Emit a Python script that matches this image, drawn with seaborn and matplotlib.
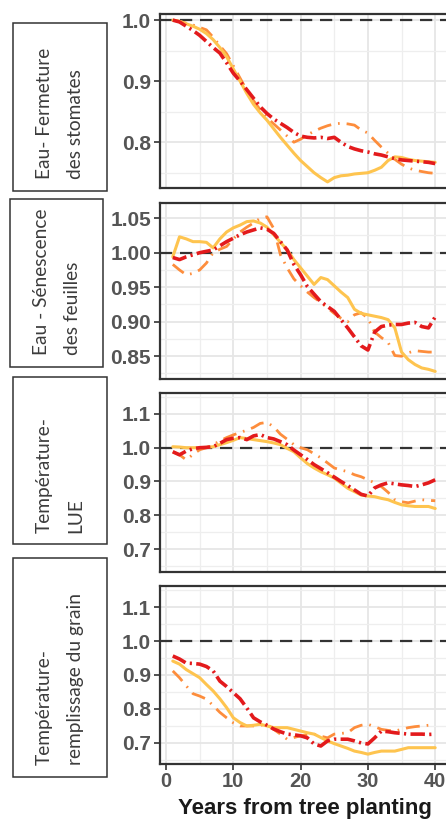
import matplotlib
matplotlib.use("Agg")
import matplotlib.pyplot as plt
from matplotlib.patches import Rectangle
import seaborn as sns
import numpy as np
import pandas as pd

# ---------------- data ----------------
years = list(range(1, 41))

panel_labels = ["Eau- Fermeture\ndes stomates",
                "Eau - Sénescence\ndes feuilles",
                "Température-\nLUE",
                "Température-\nremplissage du grain"]

# Panel 1 : Eau - Fermeture des stomates
p1_red = [1.0, 0.997, 0.99, 0.983, 0.975, 0.965, 0.955, 0.946, 0.93, 0.913,
          0.9, 0.886, 0.872, 0.858, 0.847, 0.838, 0.831, 0.824, 0.816, 0.81,
          0.808, 0.807, 0.808, 0.806, 0.808, 0.8, 0.793, 0.789, 0.786, 0.784,
          0.781, 0.779, 0.776, 0.773, 0.771, 0.77, 0.769, 0.768, 0.767, 0.765]
p1_orange = [1.0, 0.998, 0.995, 0.992, 0.988, 0.984, 0.972, 0.958, 0.945, 0.925,
             0.905, 0.885, 0.868, 0.853, 0.84, 0.83, 0.82, 0.81, 0.8, 0.805,
             0.812, 0.818, 0.823, 0.827, 0.83, 0.831, 0.83, 0.828, 0.82, 0.815,
             0.803, 0.792, 0.782, 0.772, 0.764, 0.758, 0.754, 0.752, 0.75, 0.749]
p1_yellow = [1.0, 0.998, 0.994, 0.99, 0.985, 0.978, 0.968, 0.955, 0.94, 0.92,
             0.9, 0.88, 0.862, 0.848, 0.836, 0.822, 0.808, 0.795, 0.782, 0.77,
             0.76, 0.75, 0.742, 0.735, 0.742, 0.745, 0.746, 0.748, 0.749, 0.75,
             0.754, 0.759, 0.77, 0.776, 0.775, 0.772, 0.77, 0.769, 0.768, 0.767]

# Panel 2 : Eau - Sénescence des feuilles
p2_red = [0.993, 0.99, 0.994, 0.997, 1.0, 1.002, 1.004, 1.01, 1.016, 1.021,
          1.026, 1.03, 1.033, 1.036, 1.034, 1.028, 1.016, 1.004, 0.983, 0.968,
          0.951, 0.94, 0.929, 0.922, 0.915, 0.903, 0.891, 0.878, 0.865, 0.859,
          0.885, 0.893, 0.895, 0.896, 0.896, 0.898, 0.899, 0.893, 0.891, 0.907]
p2_orange = [0.983, 0.975, 0.968, 0.97, 0.975, 0.985, 1.0, 1.005, 1.009, 1.02,
             1.03, 1.037, 1.043, 1.05, 1.052, 1.035, 0.997, 0.978, 0.962, 0.952,
             0.943, 0.935, 0.928, 0.92, 0.912, 0.905, 0.9, 0.91, 0.913, 0.905,
             0.885, 0.877, 0.87, 0.851, 0.85, 0.855, 0.858, 0.857, 0.856, 0.856]
p2_yellow = [0.994, 1.023, 1.02, 1.016, 1.016, 1.015, 1.007, 1.02, 1.03, 1.036,
             1.04, 1.045, 1.046, 1.043, 1.037, 1.026, 1.015, 1.004, 0.99, 0.978,
             0.966, 0.954, 0.964, 0.961, 0.952, 0.943, 0.935, 0.918, 0.912, 0.91,
             0.908, 0.906, 0.903, 0.891, 0.856, 0.845, 0.838, 0.833, 0.831, 0.828]

# Panel 3 : Température - LUE
p3_red = [0.988, 0.979, 0.99, 0.997, 1.0, 1.001, 1.003, 1.013, 1.024, 1.028,
          1.03, 1.024, 1.035, 1.039, 1.03, 1.026, 1.018, 1.009, 0.993, 0.979,
          0.965, 0.95, 0.938, 0.926, 0.913, 0.9, 0.888, 0.875, 0.862, 0.857,
          0.881, 0.89, 0.896, 0.893, 0.89, 0.888, 0.885, 0.89, 0.896, 0.905]
p3_orange = [0.988, 0.979, 0.964, 0.98, 0.994, 1.0, 1.009, 1.02, 1.03, 1.038,
             1.045, 1.052, 1.06, 1.072, 1.075, 1.062, 1.04, 1.025, 1.009, 1.0,
             0.994, 0.982, 0.97, 0.955, 0.94, 0.934, 0.929, 0.92, 0.914, 0.905,
             0.896, 0.885, 0.868, 0.846, 0.84, 0.837, 0.842, 0.846, 0.844, 0.843]
p3_yellow = [1.003, 1.002, 1.0, 1.0, 1.0, 1.001, 1.003, 1.009, 1.015, 1.022,
             1.03, 1.027, 1.024, 1.021, 1.018, 1.014, 1.009, 0.998, 0.988, 0.97,
             0.953, 0.94, 0.929, 0.92, 0.91, 0.895, 0.88, 0.87, 0.86, 0.857,
             0.855, 0.85, 0.846, 0.838, 0.831, 0.828, 0.826, 0.826, 0.826, 0.82]

# Panel 4 : Température - remplissage du grain
p4_red = [0.956, 0.947, 0.935, 0.934, 0.932, 0.925, 0.912, 0.882, 0.866, 0.848,
          0.83, 0.803, 0.774, 0.762, 0.752, 0.741, 0.733, 0.726, 0.724, 0.721,
          0.715, 0.697, 0.691, 0.706, 0.711, 0.711, 0.711, 0.706, 0.7, 0.697,
          0.715, 0.735, 0.733, 0.73, 0.728, 0.726, 0.726, 0.726, 0.725, 0.726]
p4_orange = [0.912, 0.892, 0.868, 0.845, 0.838, 0.829, 0.81, 0.79, 0.774, 0.759,
             0.75, 0.75, 0.75, 0.752, 0.755, 0.74, 0.726, 0.711, 0.716, 0.721,
             0.724, 0.726, 0.72, 0.715, 0.726, 0.728, 0.73, 0.745, 0.752, 0.755,
             0.748, 0.74, 0.737, 0.735, 0.74, 0.745, 0.748, 0.75, 0.752, 0.753]
p4_yellow = [0.941, 0.932, 0.916, 0.904, 0.892, 0.872, 0.853, 0.83, 0.804, 0.774,
             0.76, 0.75, 0.752, 0.755, 0.75, 0.745, 0.745, 0.745, 0.74, 0.735,
             0.73, 0.726, 0.716, 0.706, 0.698, 0.691, 0.684, 0.676, 0.672, 0.667,
             0.672, 0.676, 0.676, 0.676, 0.681, 0.686, 0.686, 0.686, 0.686, 0.686]

p1_yticks = [0.8, 0.9, 1.0]
p1_yticklabels = ["0.8", "0.9", "1.0"]
p2_yticks = [0.85, 0.90, 0.95, 1.00, 1.05]
p2_yticklabels = ["0.85", "0.90", "0.95", "1.00", "1.05"]
p34_yticks = [0.7, 0.8, 0.9, 1.0, 1.1]
p34_yticklabels = ["0.7", "0.8", "0.9", "1.0", "1.1"]
x_ticks = [0, 10, 20, 30, 40]
x_ticklabels = ["0", "10", "20", "30", "40"]
x_label = "Years from tree planting"

# ---------------- style ----------------
sns.set_theme(style="white")
plt.rcParams["font.family"] = ["Liberation Sans", "DejaVu Sans"]

W, H = 446, 823
fig = plt.figure(figsize=(W / 100, H / 100), dpi=100)

RED, ORANGE, YELLOW = "#E31A1C", "#FD8D3C", "#FEC44F"
EDGE = "#333333"

def fx(px):
    return px / W

def fy(py):
    return 1 - py / H

panels = [
    dict(top=14, bot=188, ylim=(0.725, 1.010), yt=p1_yticks, ytl=p1_yticklabels,
         minor=[0.75, 0.85, 0.95], series=(p1_red, p1_orange, p1_yellow)),
    dict(top=203, bot=379, ylim=(0.817, 1.072), yt=p2_yticks, ytl=p2_yticklabels,
         minor=[0.825, 0.875, 0.925, 0.975, 1.025], series=(p2_red, p2_orange, p2_yellow)),
    dict(top=393, bot=572, ylim=(0.632, 1.162), yt=p34_yticks, ytl=p34_yticklabels,
         minor=[0.65, 0.75, 0.85, 0.95, 1.05, 1.15], series=(p3_red, p3_orange, p3_yellow)),
    dict(top=586, bot=764, ylim=(0.638, 1.162), yt=p34_yticks, ytl=p34_yticklabels,
         minor=[0.65, 0.75, 0.85, 0.95, 1.05, 1.15], series=(p4_red, p4_orange, p4_yellow)),
]

ax_left, ax_right = 160, 450
xlim = (-0.9, 42.2)

axes = []
for i, p in enumerate(panels):
    ax = fig.add_axes([fx(ax_left), fy(p["bot"]), fx(ax_right - ax_left),
                       (p["bot"] - p["top"]) / H])
    ax.set_facecolor("white")
    ax.set_xlim(*xlim)
    ax.set_ylim(*p["ylim"])
    ax.set_xticks(x_ticks)
    ax.set_xticks([5, 15, 25, 35], minor=True)
    ax.set_yticks(p["yt"])
    ax.set_yticklabels(p["ytl"])
    ax.set_yticks(p["minor"], minor=True)
    ax.grid(True, which="major", color="#E6E6E6", lw=1.3, zorder=0)
    ax.grid(True, which="minor", color="#EEEEEE", lw=0.9, zorder=0)
    ax.set_axisbelow(True)
    for s in ax.spines.values():
        s.set_color(EDGE)
        s.set_linewidth(1.6)
    ax.axhline(1.0, color="#333333", lw=1.6, ls=(0, (5.5, 3.5)), zorder=1)

    red, orange, yellow = p["series"]
    sns.lineplot(x=years, y=orange, ax=ax, color=ORANGE, lw=2.0,
                 linestyle=(0, (5, 2.5, 0.6, 2.5)), zorder=2)
    sns.lineplot(x=years, y=yellow, ax=ax, color=YELLOW, lw=2.2,
                 linestyle="-", zorder=3)
    sns.lineplot(x=years, y=red, ax=ax, color=RED, lw=2.6,
                 linestyle=(0, (4, 1.2, 0.6, 1.2)), zorder=4)

    ax.tick_params(axis="y", which="major", left=True, length=4, width=1.2,
                   color=EDGE, labelsize=15, labelcolor="#555555", pad=2.5)
    ax.tick_params(axis="y", which="minor", left=False)
    ax.tick_params(axis="x", which="minor", bottom=False)
    if i < 3:
        ax.tick_params(axis="x", which="major", bottom=False, labelbottom=False)
    else:
        ax.set_xticklabels(x_ticklabels)
        ax.tick_params(axis="x", which="major", bottom=True, length=4, width=1.2,
                       color=EDGE, labelsize=14.5, labelcolor="#555555", pad=1.5)
        ax.set_xlabel(x_label, fontsize=16, fontweight="bold", color="#1a1a1a",
                      labelpad=5)
    ax.set_ylabel("")
    for lab in ax.get_yticklabels() + ax.get_xticklabels():
        lab.set_fontweight("bold")
    axes.append(ax)

# ---------------- left label boxes ----------------
boxes = [
    dict(x0=13, x1=107, y0=23, y1=191, tx=60, ty=179),
    dict(x0=10, x1=103, y0=199, y1=367, tx=57, ty=355),
    dict(x0=13, x1=107, y0=377, y1=544, tx=60, ty=533),
    dict(x0=13, x1=107, y0=558, y1=777, tx=60, ty=765),
]
for b, lab in zip(boxes, panel_labels):
    rect = Rectangle((fx(b["x0"]), fy(b["y1"])), fx(b["x1"] - b["x0"]),
                     (b["y1"] - b["y0"]) / H, transform=fig.transFigure,
                     facecolor="white", edgecolor="#333333", lw=1.1)
    fig.patches.append(rect)
    fig.text(fx(b["tx"]), fy(b["ty"]), lab, rotation=90, ha="center", va="bottom",
             multialignment="left", fontsize=13.8, color="#3c3c3c",
             family=["Lato", "DejaVu Sans"], linespacing=2.0,
             rotation_mode="default")

fig.savefig("out.png", dpi=100)
